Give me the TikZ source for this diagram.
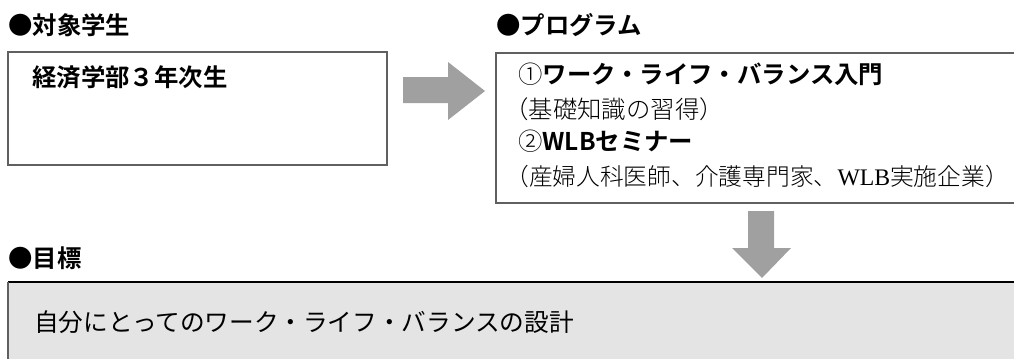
\documentclass[tikz,border=0pt]{standalone}
\usepackage{fontspec}
\newfontfamily\jpbold{Noto Sans CJK JP Bold}
\newfontfamily\jplight{Noto Sans CJK JP Light}
\newfontfamily\jpreg{Noto Sans CJK JP}
\newfontfamily\latserif{Liberation Serif}
\newcommand{\closeparen}{\makebox[0.5em][l]{）}}
\definecolor{arrowgray}{HTML}{A0A0A0}
\definecolor{boxline}{HTML}{606060}
\definecolor{goalfill}{HTML}{E4E4E4}
\tikzset{
  heading/.style={anchor=base west, inner sep=0pt, font=\jpbold\fontsize{18.3}{20}\selectfont},
  gothicline/.style={anchor=base west, inner sep=0pt, font=\jpbold\fontsize{18.3}{20}\selectfont},
  mincholine/.style={anchor=base west, inner sep=0pt, font=\jplight\fontsize{18.3}{20}\selectfont},
  goaltext/.style={anchor=base west, inner sep=0pt, font=\jpreg\fontsize{18.5}{20}\selectfont},
  framebox/.style={draw=boxline, line width=1.1pt},
  blockarrow/.style={fill=arrowgray, draw=none}
}
\begin{document}
\begin{tikzpicture}[x=0.75pt, y=-0.75pt]
\useasboundingbox (0,0) rectangle (1014,358);
\clip (0,0) rectangle (1014,358);
% boxes
\draw[framebox] (8,52) rectangle (387,165);
\draw[framebox] (1020,53) -- (496,53) -- (496,203) -- (1020,203);
% goal box
\fill[goalfill] (8,282) rectangle (1020,362);
\draw[black, line width=1.2pt] (8,282) -- (1020,282);
\draw[boxline, line width=1.1pt] (8,282) -- (8,362);
% arrows
\fill[blockarrow] (403,77) -- (448,77) -- (448,62) -- (485,91) -- (448,120) -- (448,103) -- (403,103) -- cycle;
\fill[blockarrow] (748,211) -- (774,211) -- (774,248) -- (791,248) -- (762,278) -- (732,248) -- (748,248) -- cycle;
% texts
\node[heading] (h1) at (8,34) {●対象学生};
\node[heading] (h2) at (496,34) {●プログラム};
\node[heading] (h3) at (8,267) {●目標};
\node[gothicline] (t1) at (32,86) {経済学部３年次生};
\node[gothicline] (p1) at (518,83) {{\jplight ①}ワーク・ライフ・バランス入門};
\node[mincholine] (p2) at (504,118) {（基礎知識の習得\closeparen};
\node[gothicline] (p3) at (518,150) {{\jplight ②}WLBセミナー};
\node[mincholine, font=\jplight\fontsize{17.8}{20}\selectfont] (p4) at (505,185) {（産婦人科医師、介護専門家、{\latserif WLB}実施企業\closeparen};
\node[goaltext] (g1) at (34,331) {自分にとってのワーク・ライフ・バランスの設計};
\end{tikzpicture}
\end{document}
